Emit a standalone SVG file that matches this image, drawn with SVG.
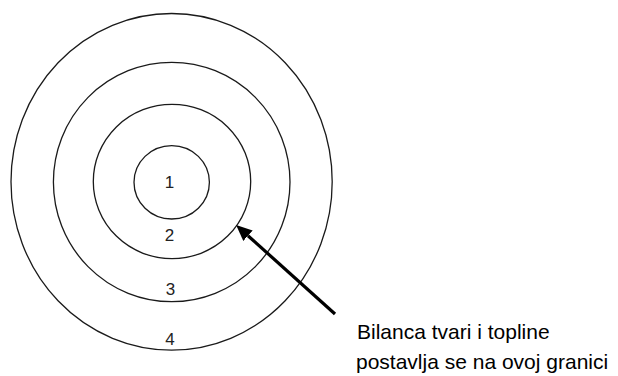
<svg xmlns="http://www.w3.org/2000/svg" width="618" height="376" viewBox="0 0 618 376">
<style>
.ring{fill:none;stroke:#1a1a1a;stroke-width:1.3}
.num{font-family:"Liberation Sans",Arial,sans-serif;font-size:17px;fill:#222;text-anchor:middle}
.note{font-family:"Liberation Sans",Arial,sans-serif;font-size:21px;fill:#000}
.arrow{stroke:#000;stroke-width:3.2;fill:none}
</style>
<defs>
<marker id="head" markerUnits="userSpaceOnUse" markerWidth="16" markerHeight="14" refX="0" refY="7" orient="auto" viewBox="0 0 16 14">
<path d="M0,0 L16,7 L0,14 z" fill="#000"/>
</marker>
</defs>
<rect width="618" height="376" fill="#fff"/>
<g id="ring4"><ellipse class="ring" cx="171.6" cy="181.8" rx="160.6" ry="168.3"/><text class="num" x="170" y="344.5">4</text></g>
<g id="ring3"><ellipse class="ring" cx="171.7" cy="182" rx="118.3" ry="119.7"/><text class="num" x="170.5" y="295">3</text></g>
<g id="ring2"><ellipse class="ring" cx="172" cy="181.5" rx="78.7" ry="77.2"/><text class="num" x="169.5" y="240.7">2</text></g>
<g id="ring1"><ellipse class="ring" cx="171.7" cy="182.3" rx="37.7" ry="36.7"/><text class="num" x="169.5" y="188.3">1</text></g>
<g id="connectors">
<line class="arrow" x1="335" y1="314" x2="248" y2="235.7" marker-end="url(#head)"/>
</g>
<g id="note">
<text class="note" x="357" y="339">Bilanca tvari i topline</text>
<text class="note" x="356" y="369">postavlja se na ovoj granici</text>
</g>
</svg>
